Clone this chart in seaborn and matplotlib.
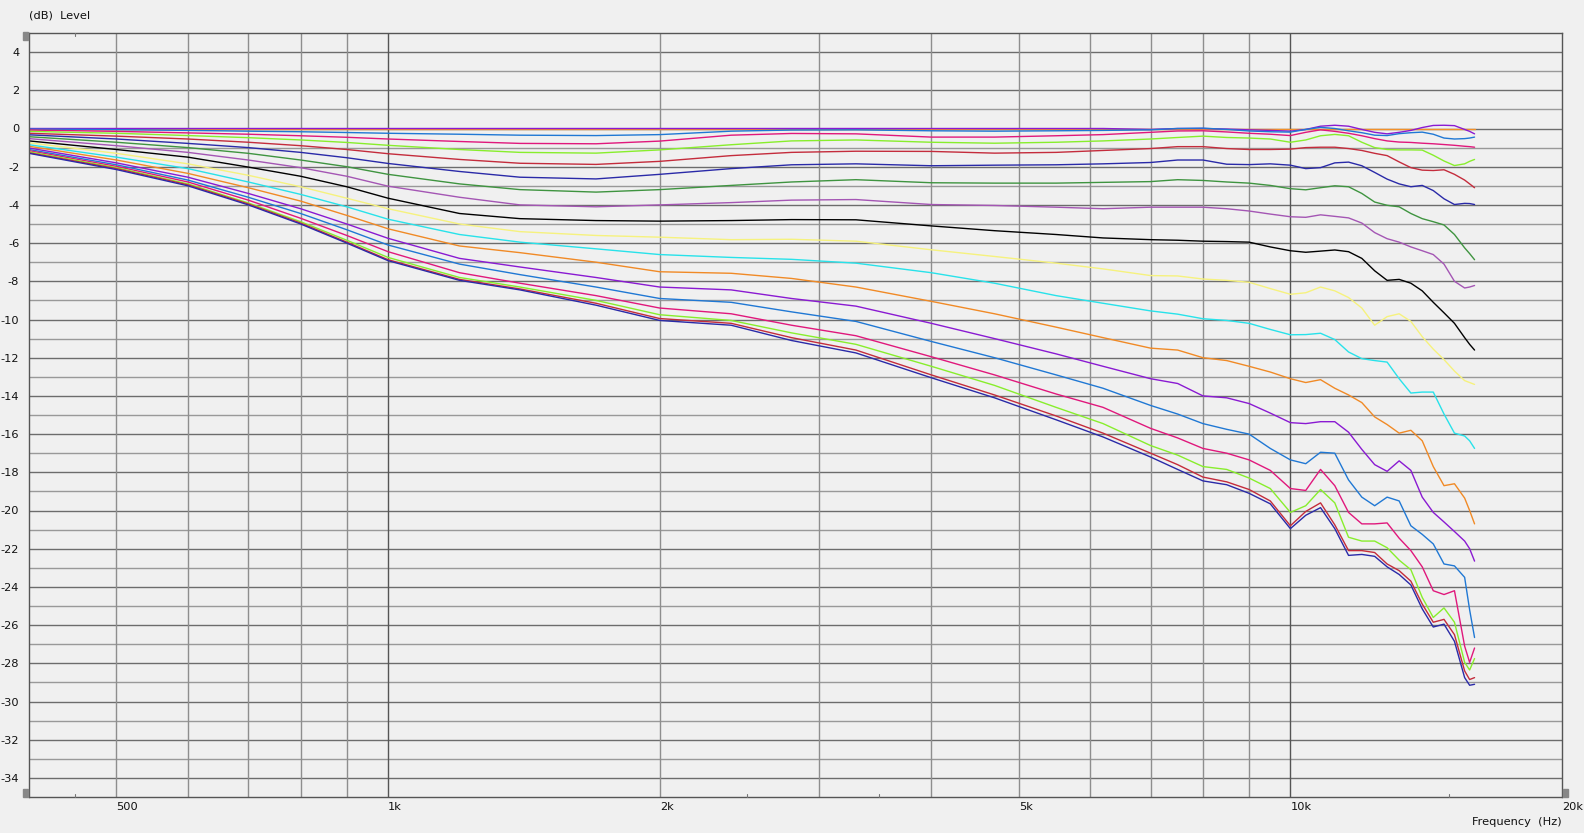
import matplotlib
matplotlib.use("Agg")
import matplotlib.pyplot as plt
import seaborn as sns
import pandas as pd
from matplotlib.patches import Rectangle

# ---------------- data ----------------
FREQ = [400, 500, 600, 700, 800, 900, 1000,
        1200, 1400, 1700, 2000, 2400, 2800, 3300, 4000, 4700, 5500, 6200, 7000,
        7500, 8000, 8500, 9000, 9500, 10000, 10400, 10800, 11200, 11600, 12000,
        12400, 12800, 13200, 13600, 14000, 14400, 14800, 15200, 15600, 15800, 16000]

C00 = [0.0] * 41
C01 = [0, 0, 0, 0, 0, 0, 0,
       0, 0, 0, 0, 0, 0, 0, 0, 0, 0, 0, -0.05,
       0.0, 0.0, -0.03, -0.07, -0.1, -0.14, -0.05, 0.12, 0.17, 0.12, -0.05,
       -0.2, -0.28, -0.2, -0.1, 0.05, 0.16, 0.17, 0.15, -0.05, -0.15, -0.28]
C02 = [-0.03, -0.06, -0.1, -0.14, -0.17, -0.21, -0.25,
       -0.3, -0.35, -0.37, -0.32, -0.14, -0.08, -0.07, -0.12, -0.14, -0.12, -0.1, -0.07,
       0.0, 0.02, -0.05, -0.13, -0.17, -0.19, -0.05, 0.06, 0.0, -0.12, -0.22,
       -0.35, -0.37, -0.27, -0.22, -0.19, -0.3, -0.5, -0.55, -0.53, -0.5, -0.45]
C03 = [-0.08, -0.15, -0.23, -0.3, -0.38, -0.46, -0.55,
       -0.68, -0.78, -0.8, -0.66, -0.35, -0.26, -0.28, -0.45, -0.45, -0.38, -0.32, -0.2,
       -0.13, -0.12, -0.18, -0.25, -0.3, -0.37, -0.2, -0.07, -0.15, -0.25, -0.38,
       -0.53, -0.65, -0.71, -0.73, -0.77, -0.8, -0.84, -0.88, -0.93, -0.95, -0.98]
C04 = [-0.15, -0.25, -0.37, -0.48, -0.6, -0.73, -0.88,
       -1.1, -1.25, -1.29, -1.12, -0.85, -0.65, -0.6, -0.72, -0.77, -0.72, -0.65, -0.55,
       -0.47, -0.4, -0.47, -0.5, -0.55, -0.72, -0.6, -0.38, -0.31, -0.38, -0.72,
       -1.0, -1.1, -1.12, -1.12, -1.13, -1.4, -1.7, -1.94, -1.85, -1.72, -1.62]
C05 = [-0.25, -0.4, -0.55, -0.72, -0.9, -1.1, -1.32,
       -1.62, -1.82, -1.88, -1.72, -1.42, -1.25, -1.19, -1.2, -1.29, -1.25, -1.15, -1.05,
       -0.95, -0.95, -1.05, -1.1, -1.1, -1.08, -1.0, -0.98, -0.98, -1.05, -1.15,
       -1.3, -1.42, -1.75, -2.05, -2.18, -2.2, -2.16, -2.4, -2.7, -2.9, -3.1]
C06 = [-0.33, -0.55, -0.78, -1.0, -1.25, -1.53, -1.83,
       -2.25, -2.55, -2.64, -2.4, -2.1, -1.9, -1.85, -1.95, -1.92, -1.9, -1.85, -1.78,
       -1.65, -1.65, -1.87, -1.89, -1.85, -1.92, -2.1, -2.05, -1.8, -1.76, -1.95,
       -2.3, -2.65, -2.9, -3.05, -2.98, -3.25, -3.68, -3.98, -3.92, -3.93, -3.98]
C07 = [-0.43, -0.72, -1.0, -1.3, -1.65, -2.0, -2.4,
       -2.9, -3.2, -3.33, -3.2, -2.98, -2.8, -2.68, -2.84, -2.86, -2.86, -2.82, -2.78,
       -2.68, -2.72, -2.8, -2.86, -2.98, -3.15, -3.21, -3.1, -3.0, -3.05, -3.4,
       -3.85, -4.02, -4.1, -4.45, -4.72, -4.88, -5.05, -5.55, -6.25, -6.55, -6.87]
C08 = [-0.53, -0.9, -1.25, -1.65, -2.05, -2.5, -3.02,
       -3.6, -4.0, -4.1, -4.0, -3.88, -3.75, -3.72, -3.98, -4.03, -4.12, -4.2, -4.12,
       -4.12, -4.12, -4.2, -4.32, -4.48, -4.62, -4.65, -4.52, -4.6, -4.68, -4.95,
       -5.45, -5.77, -5.95, -6.2, -6.4, -6.6, -7.1, -8.0, -8.35, -8.3, -8.22]
C09 = [-0.65, -1.1, -1.5, -2.02, -2.5, -3.05, -3.65,
       -4.45, -4.72, -4.82, -4.85, -4.82, -4.77, -4.78, -5.1, -5.35, -5.55, -5.73, -5.82,
       -5.85, -5.9, -5.92, -5.95, -6.2, -6.4, -6.48, -6.42, -6.36, -6.45, -6.8,
       -7.45, -7.95, -7.9, -8.1, -8.5, -9.1, -9.65, -10.2, -10.95, -11.3, -11.6]
C10 = [-0.75, -1.3, -1.85, -2.45, -3.05, -3.65, -4.2,
       -5.0, -5.4, -5.6, -5.69, -5.82, -5.8, -5.9, -6.35, -6.7, -7.05, -7.35, -7.7,
       -7.72, -7.88, -7.95, -8.05, -8.38, -8.68, -8.6, -8.3, -8.5, -8.85, -9.4,
       -10.3, -9.85, -9.7, -10.1, -10.9, -11.55, -12.1, -12.7, -13.2, -13.3, -13.4]
C11 = [-0.85, -1.5, -2.1, -2.8, -3.45, -4.1, -4.75,
       -5.55, -5.95, -6.3, -6.6, -6.75, -6.85, -7.05, -7.55, -8.1, -8.75, -9.15, -9.55,
       -9.72, -9.96, -10.05, -10.2, -10.52, -10.8, -10.79, -10.72, -11.05, -11.7, -12.05,
       -12.15, -12.23, -13.1, -13.85, -13.8, -13.8, -14.95, -15.95, -16.1, -16.35, -16.75]
C12 = [-0.93, -1.65, -2.35, -3.1, -3.8, -4.55, -5.25,
       -6.15, -6.5, -7.0, -7.5, -7.58, -7.85, -8.3, -9.05, -9.7, -10.4, -10.95, -11.5,
       -11.6, -12.0, -12.15, -12.45, -12.75, -13.1, -13.3, -13.15, -13.6, -13.95, -14.35,
       -15.1, -15.5, -15.95, -15.8, -16.35, -17.7, -18.7, -18.6, -19.35, -20.0, -20.7]
C13 = [-1.02, -1.8, -2.55, -3.4, -4.2, -5.0, -5.75,
       -6.8, -7.25, -7.8, -8.3, -8.45, -8.9, -9.3, -10.2, -11.0, -11.8, -12.45, -13.1,
       -13.35, -14.0, -14.1, -14.4, -14.9, -15.4, -15.45, -15.35, -15.35, -15.9, -16.8,
       -17.6, -17.95, -17.4, -17.9, -19.3, -20.1, -20.6, -21.1, -21.6, -22.0, -22.65]
C14 = [-1.1, -1.9, -2.7, -3.6, -4.45, -5.3, -6.1,
       -7.1, -7.65, -8.3, -8.9, -9.1, -9.6, -10.1, -11.15, -12.0, -12.9, -13.6, -14.5,
       -14.95, -15.45, -15.75, -16.0, -16.75, -17.35, -17.55, -16.95, -17.0, -18.4, -19.3,
       -19.75, -19.3, -19.5, -20.8, -21.25, -21.75, -22.8, -22.9, -23.5, -25.2, -26.65]
C15 = [-1.16, -1.98, -2.8, -3.75, -4.7, -5.6, -6.45,
       -7.55, -8.1, -8.75, -9.4, -9.7, -10.3, -10.85, -11.95, -12.9, -13.9, -14.6, -15.7,
       -16.2, -16.75, -17.0, -17.35, -17.9, -18.85, -18.95, -17.85, -18.7, -20.1, -20.7,
       -20.7, -20.65, -21.45, -22.1, -22.95, -24.2, -24.4, -24.2, -27.1, -27.95, -27.2]
C16 = [-1.22, -2.05, -2.9, -3.9, -4.88, -5.85, -6.75,
       -7.8, -8.3, -9.0, -9.75, -10.05, -10.7, -11.3, -12.45, -13.45, -14.6, -15.45, -16.6,
       -17.1, -17.7, -17.85, -18.3, -18.85, -20.1, -19.75, -18.9, -19.6, -21.4, -21.6,
       -21.6, -21.95, -22.6, -23.1, -24.55, -25.6, -25.1, -25.85, -27.95, -28.35, -27.75]
C17 = [-1.27, -2.1, -2.95, -3.95, -4.95, -5.95, -6.87,
       -7.9, -8.4, -9.15, -9.95, -10.2, -10.95, -11.6, -12.9, -13.95, -15.05, -15.95, -17.0,
       -17.6, -18.25, -18.5, -18.9, -19.5, -20.8, -20.05, -19.6, -20.75, -22.1, -22.1,
       -22.2, -22.8, -23.15, -23.7, -24.9, -25.85, -25.7, -26.5, -28.4, -28.85, -28.75]
C18 = [-1.3, -2.15, -3.0, -4.0, -5.0, -6.0, -6.92,
       -7.95, -8.45, -9.25, -10.05, -10.3, -11.1, -11.75, -13.05, -14.1, -15.25, -16.15, -17.2,
       -17.85, -18.45, -18.65, -19.1, -19.65, -20.95, -20.25, -19.85, -20.95, -22.35, -22.3,
       -22.4, -22.95, -23.35, -23.9, -25.15, -26.1, -25.95, -26.85, -28.75, -29.15, -29.1]

CURVES = [C00, C01, C02, C03, C04, C05, C06, C07, C08, C09,
          C10, C11, C12, C13, C14, C15, C16, C17, C18]

COLORS = ["#f39028", "#8a1ad2", "#2078d4", "#e0187c", "#88ee2c", "#c42c3c",
          "#2a2aa8", "#3f9440", "#a456b4", "#000000", "#f6f27e", "#28e2ea",
          "#f08a26", "#8a1ad2", "#2078d4", "#e0187c", "#88ee2c", "#c42c3c",
          "#2a2aa8"]

X_TICKS = [500, 1000, 2000, 5000, 10000, 20000]
X_LABELS = ["500", "1k", "2k", "5k", "10k", "20k"]
Y_TICKS = list(range(-34, 5, 2))
Y_LABELS = [str(v) for v in Y_TICKS]

# ---------------- figure ----------------
sns.set_theme(style="white")
plt.rcParams["font.family"] = ["DejaVu Sans"]

W, H = 1584, 833
BG = "#f0f0f0"
FS = 8.2
fig = plt.figure(figsize=(W / 100, H / 100), dpi=100, facecolor=BG)
L, R, T, B = 29, 1562, 33, 797
ax = fig.add_axes([L / W, (H - B) / H, (R - L) / W, (B - T) / H])
ax.set_facecolor(BG)
ax.set_xscale("log")

# grid
for db in range(-34, 5):
    ax.axhline(db, color="#6c6c6c" if db % 2 == 0 else "#999999", lw=1.0, zorder=0.5)
for f in [500, 600, 700, 800, 900, 2000, 3000, 4000, 5000, 6000, 7000, 8000, 9000]:
    ax.axvline(f, color="#8e8e8e", lw=1.0, zorder=0.5)
for f in [1000, 10000]:
    ax.axvline(f, color="#555555", lw=1.0, zorder=0.6)

rows = []
for i, c in enumerate(CURVES):
    for f, v in zip(FREQ, c):
        rows.append({"freq": f, "level": v, "curve": f"c{i:02d}"})
df = pd.DataFrame(rows)
sns.lineplot(data=df, x="freq", y="level", hue="curve", palette=COLORS,
             estimator=None, sort=False, legend=False, lw=1.0, ax=ax, zorder=2)

ax.set_xlim(400, 20000)
ax.set_ylim(-35, 5)
ax.set_xlabel("")
ax.set_ylabel("")

ax.xaxis.set_minor_locator(matplotlib.ticker.NullLocator())
ax.set_xticks(X_TICKS)
ax.set_xticklabels(X_LABELS, ha="left", fontsize=FS, color="#111111")
ax.set_yticks(Y_TICKS)
ax.set_yticklabels(Y_LABELS, fontsize=FS, color="#111111")
ax.tick_params(axis="x", length=0, pad=3.5)
ax.tick_params(axis="y", length=0, pad=7)

for s in ax.spines.values():
    s.set_color("#555555")
    s.set_linewidth(1.0)

# small inside tick marks
for f in [450, 2500, 3500, 15000]:
    ax.plot([f, f], [-35, -34.85], color="#777777", lw=0.8, zorder=3, clip_on=False)
ax.plot([450, 450], [5, 4.85], color="#777777", lw=0.8, zorder=3, clip_on=False)

# text
fig.text(L / W, 1 - 15 / H, "(dB)  Level", ha="left", va="center", fontsize=FS, color="#111111")
fig.text(R / W, 1 - 822 / H, "Frequency  (Hz)", ha="right", va="center", fontsize=FS, color="#111111")

# scroll markers
for (x0, y0, w, h) in [(23, 32, 4.5, 8), (23, 789, 4.5, 8), (1563, 789, 4.5, 8)]:
    fig.patches.append(Rectangle((x0 / W, 1 - (y0 + h) / H), w / W, h / H,
                                 transform=fig.transFigure, color="#888888", zorder=5))

fig.savefig("out.png", dpi=100, facecolor=BG)
